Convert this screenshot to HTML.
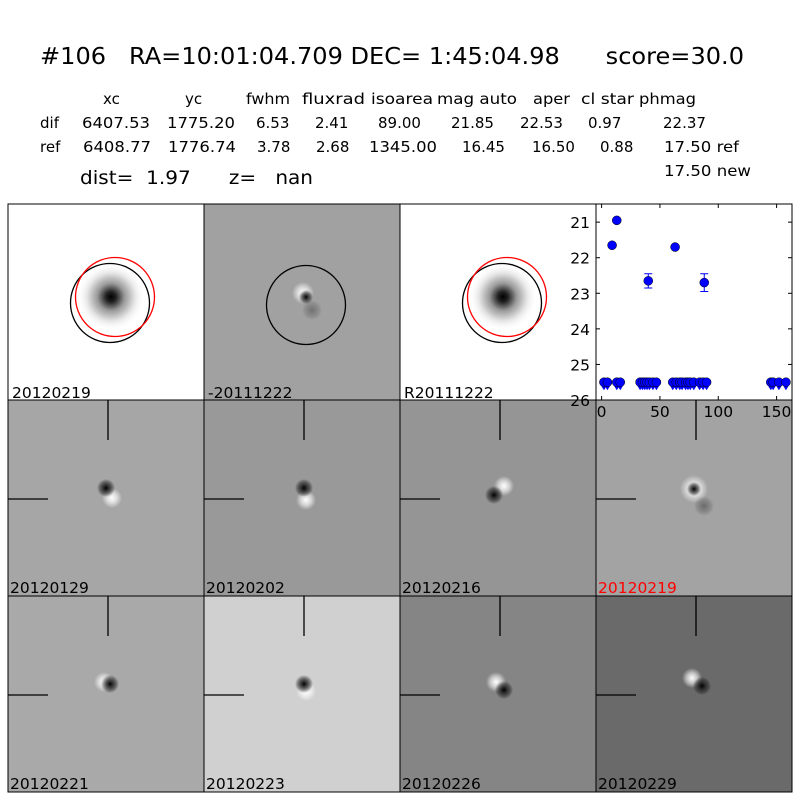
<!DOCTYPE html>
<html><head><meta charset="utf-8"><style>
html,body{margin:0;padding:0;background:#fff;}
svg{display:block;font-family:"DejaVu Sans","Liberation Sans",sans-serif;}
text{white-space:pre;}
</style></head><body>
<svg id="fig" width="800" height="800" viewBox="0 0 800 800">
<defs>
<radialGradient id="refStar"><stop offset="0" stop-color="#000"/><stop offset="0.15" stop-color="#222"/><stop offset="0.4" stop-color="#999"/><stop offset="0.7" stop-color="#e4e4e4"/><stop offset="1" stop-color="#fff" stop-opacity="0"/></radialGradient>
<radialGradient id="dk"><stop offset="0" stop-color="#000"/><stop offset="0.5" stop-color="#222" stop-opacity="0.7"/><stop offset="1" stop-color="#000" stop-opacity="0"/></radialGradient>
<radialGradient id="wt"><stop offset="0" stop-color="#fff"/><stop offset="0.5" stop-color="#fff" stop-opacity="0.6"/><stop offset="1" stop-color="#fff" stop-opacity="0"/></radialGradient>
</defs>
<g>
<text x="40" y="64" font-size="23" textLength="704" lengthAdjust="spacingAndGlyphs">#106   RA=10:01:04.709 DEC= 1:45:04.98      score=30.0</text>
<g font-size="15">
<text x="103" y="104">xc</text>
<text x="185" y="104">yc</text>
<text x="246" y="104" textLength="44" lengthAdjust="spacingAndGlyphs">fwhm</text>
<text x="302" y="104" textLength="63" lengthAdjust="spacingAndGlyphs">fluxrad</text>
<text x="371" y="104" textLength="62" lengthAdjust="spacingAndGlyphs">isoarea</text>
<text x="437" y="104" textLength="80" lengthAdjust="spacingAndGlyphs">mag auto</text>
<text x="533" y="104" textLength="37" lengthAdjust="spacingAndGlyphs">aper</text>
<text x="581" y="104" textLength="53" lengthAdjust="spacingAndGlyphs">cl star</text>
<text x="639" y="104" textLength="57" lengthAdjust="spacingAndGlyphs">phmag</text>
<g>
<text x="40" y="128">dif</text><text x="82" y="128" textLength="68" lengthAdjust="spacingAndGlyphs">6407.53</text><text x="167" y="128" textLength="68" lengthAdjust="spacingAndGlyphs">1775.20</text><text x="256" y="128">6.53</text><text x="315" y="128">2.41</text><text x="378" y="128">89.00</text><text x="451" y="128">21.85</text><text x="520" y="128">22.53</text><text x="588" y="128">0.97</text><text x="663" y="128">22.37</text>
</g>
<g>
<text x="40" y="152">ref</text><text x="83" y="152" textLength="68" lengthAdjust="spacingAndGlyphs">6408.77</text><text x="168" y="152" textLength="68" lengthAdjust="spacingAndGlyphs">1776.74</text><text x="257" y="152">3.78</text><text x="316" y="152">2.68</text><text x="369" y="152" textLength="68" lengthAdjust="spacingAndGlyphs">1345.00</text><text x="462" y="152">16.45</text><text x="532" y="152">16.50</text><text x="600" y="152">0.88</text><text x="664" y="152" textLength="75" lengthAdjust="spacingAndGlyphs">17.50 ref</text>
</g>
<text x="664" y="176" textLength="87" lengthAdjust="spacingAndGlyphs">17.50 new</text>
</g>
<text x="80" y="184" font-size="19" textLength="233" lengthAdjust="spacingAndGlyphs">dist=  1.97      z=   nan</text>
</g>

<g>
<rect x="8" y="204" width="196" height="196" fill="#fff" stroke="#000"/>
<circle cx="111" cy="297" r="34" fill="url(#refStar)"/>
<circle cx="110" cy="303" r="39.5" fill="none" stroke="#000" stroke-width="1.3"/>
<circle cx="115" cy="297" r="39.5" fill="none" stroke="#f00" stroke-width="1.3"/>
<text x="12" y="398" font-size="15.5">20120219</text>
</g>
<g>
<rect x="204" y="204" width="196" height="196" fill="#a1a1a1" stroke="#000"/>
<circle cx="303" cy="293" r="11" fill="url(#wt)"/>
<circle cx="312" cy="310" r="10" fill="url(#dk)" opacity="0.3"/>
<circle cx="306" cy="297" r="7" fill="url(#dk)"/>
<circle cx="306" cy="305" r="39.5" fill="none" stroke="#000" stroke-width="1.3"/>
<text x="208" y="398" font-size="15.5">-20111222</text>
</g>
<g>
<rect x="400" y="204" width="196" height="196" fill="#fff" stroke="#000"/>
<circle cx="503" cy="297" r="34" fill="url(#refStar)"/>
<circle cx="502" cy="303" r="39.5" fill="none" stroke="#000" stroke-width="1.3"/>
<circle cx="507" cy="297" r="39.5" fill="none" stroke="#f00" stroke-width="1.3"/>
<text x="404" y="398" font-size="15.5">R20111222</text>
</g>

<g id="thumbs"></g>

<g id="chart"></g>
</svg>
<script>
const detX = [9, 13, 40, 63, 88];
const detMag = [21.65, 20.95, 22.65, 21.7, 22.7];
const detErr = [0.05, 0.05, 0.2, 0.05, 0.25];
const limX = [2, 5, 13, 16, 33, 35, 37, 39, 41, 44, 47, 61, 64, 67, 69, 72, 74, 76, 79, 84, 87, 90, 145, 147, 152, 158];
const limMag = [25.5,25.5,25.5,25.5,25.5,25.5,25.5,25.5,25.5,25.5,25.5,25.5,25.5,25.5,25.5,25.5,25.5,25.5,25.5,25.5,25.5,25.5,25.5,25.5,25.5,25.5];
const xTicks = [0, 50, 100, 150];
const yTicks = [21, 22, 23, 24, 25, 26];
const thumbLabels = ["20120129","20120202","20120216","20120219","20120221","20120223","20120226","20120229"];
const thumbBg = ["#a6a6a6","#999999","#959595","#a3a3a3","#a9a9a9","#d0d0d0","#858585","#6a6a6a"];

const NS = "http://www.w3.org/2000/svg";
function mk(tag, attrs, parent){const e=document.createElementNS(NS,tag);for(const k in attrs)e.setAttribute(k,attrs[k]);parent.appendChild(e);return e;}
const X0=596,X1=792,Y0=204,Y1=400;
const xmin=-4.8,xmax=163.2,ymin=20.49,ymax=26;
function sx(v){return X0+(v-xmin)/(xmax-xmin)*(X1-X0);}
function sy(v){return Y0+(v-ymin)/(ymax-ymin)*(Y1-Y0);}

const blobs=[[4,-2,-2,-12],[2,0,0,-12],[4,-14,-6,-5],null,[-4,-14,2,-12],[2,-5,0,-12],[-4,-14,4,-6],[-4,-18,6,-10]];
const th=document.getElementById('thumbs');
thumbLabels.forEach((lab,i)=>{
  const c=i%4,r=Math.floor(i/4);
  const x=8+c*196,y=400+r*196;
  const g=mk('g',{},th);
  
  
  mk('rect',{x:x,y:y,width:196,height:196,fill:thumbBg[i],stroke:'#000'},g);
  const cx=x+100,cy=y+100;
  if(i===3){
    mk('circle',{cx:cx-2,cy:cy-11,r:14,fill:'url(#wt)'},g);
    mk('circle',{cx:cx+8,cy:cy+6,r:10,fill:'url(#dk)',opacity:0.35},g);
    mk('circle',{cx:cx-2,cy:cy-11,r:7,fill:'url(#dk)'},g);
  } else {
    const b=blobs[i];
    mk('circle',{cx:cx+b[0],cy:cy+b[1],r:10,fill:'url(#wt)'},g);
    mk('circle',{cx:cx+b[2],cy:cy+b[3],r:9,fill:'url(#dk)'},g);
  }
  mk('line',{x1:x+100,y1:y,x2:x+100,y2:y+40,stroke:'#000','stroke-width':1.3},g);
  mk('line',{x1:x,y1:y+99,x2:x+40,y2:y+99,stroke:'#000','stroke-width':1.3},g);
  const t=mk('text',{x:x+2,y:y+193,'font-size':15.5,fill:i===3?'#f00':'#000'},g);
  t.textContent=lab;
});

const ch=document.getElementById('chart');
mk('rect',{x:X0,y:Y0,width:196,height:196,fill:'#fff',stroke:'#000'},ch);
xTicks.forEach(v=>{
  const x=sx(v);
  const t1=mk('line',{x1:x,y1:Y1,x2:x,y2:Y1-4,stroke:'#000'},ch);
  
  
  mk('line',{x1:x,y1:Y0,x2:x,y2:Y0+4,stroke:'#000'},ch);
  const t=mk('text',{x:x,y:417,'font-size':15.5,'text-anchor':'middle'},ch);
  
  
  t.textContent=v;
});
yTicks.forEach(v=>{
  const y=sy(v);
  mk('line',{x1:X0,y1:y,x2:X0+4,y2:y,stroke:'#000'},ch);
  mk('line',{x1:X1,y1:y,x2:X1-4,y2:y,stroke:'#000'},ch);
  const t=mk('text',{x:590,y:y+6,'font-size':15.5,'text-anchor':'end'},ch);
  
  
  t.textContent=v;
});
limX.forEach((v,i)=>{
  const x=sx(v),y=sy(limMag[i]);
  const a=mk('path',{d:`M${x-2.5},${y+4} L${x+2.5},${y+4} L${x},${y+8} Z`,fill:'#00f'},ch);
  
  
  const p=mk('circle',{cx:x,cy:y,r:4.5,fill:'#00f',stroke:'#000','stroke-width':0.5},ch);
  
  
});
detX.forEach((v,i)=>{
  const x=sx(v),y=sy(detMag[i]);
  const ya=sy(detMag[i]-detErr[i]),yb=sy(detMag[i]+detErr[i]);
  const e=mk('path',{d:`M${x},${ya} L${x},${yb} M${x-4},${ya} L${x+4},${ya} M${x-4},${yb} L${x+4},${yb}`,stroke:'#00f','stroke-width':1,fill:'none'},ch);
  
  
  const p=mk('circle',{cx:x,cy:y,r:4.5,fill:'#00f',stroke:'#000','stroke-width':0.5},ch);
  
  
});
</script>
</body></html>
